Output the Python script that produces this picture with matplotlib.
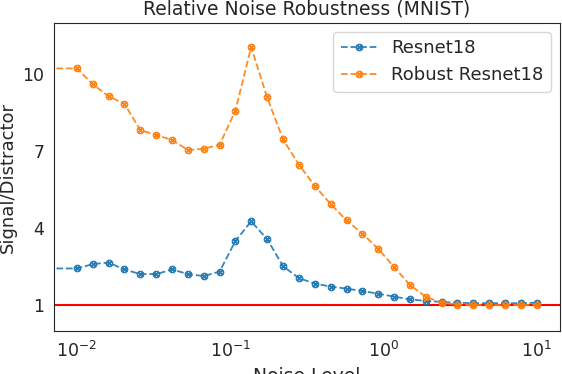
import matplotlib
matplotlib.use("Agg")
import matplotlib.pyplot as plt
import seaborn as sns

sns.set_style("white")
plt.rcParams['font.family'] = ['DejaVu Sans']

# noise levels (first point is noise = 0, falls off the log axis)
noise = [0.0, 0.01, 0.0127, 0.0161, 0.0204, 0.0259, 0.0329, 0.0418, 0.053, 0.0672,
         0.0853, 0.108, 0.137, 0.174, 0.221, 0.281, 0.356, 0.452, 0.574,
         0.728, 0.924, 1.17, 1.49, 1.89, 2.4, 3.04, 3.86, 4.89, 6.21, 7.88, 10.0]

resnet = [2.41, 2.41, 2.58, 2.64, 2.37, 2.19, 2.19, 2.37, 2.19, 2.11, 2.29,
          3.48, 4.25, 3.56, 2.50, 2.03, 1.82, 1.70, 1.62, 1.53, 1.42,
          1.31, 1.20, 1.14, 1.10, 1.07, 1.05, 1.05, 1.05, 1.05, 1.07]

robust = [10.23, 10.23, 9.61, 9.14, 8.85, 7.82, 7.63, 7.43, 7.04, 7.09, 7.25,
          8.57, 11.07, 9.10, 7.46, 6.46, 5.64, 4.93, 4.29, 3.77, 3.18,
          2.47, 1.76, 1.30, 1.07, 1.00, 0.98, 0.98, 0.98, 0.98, 0.99]

fig, ax = plt.subplots(figsize=(5.62, 3.74), dpi=100)
fig.subplots_adjust(left=0.096, right=0.996, top=0.938, bottom=0.114)

ax.axhline(1, color='red', linewidth=1.5)
ax.plot(noise, resnet, '--', color='#1f77b4', marker=r'$\otimes$',
        markersize=5, markeredgewidth=0.6, alpha=0.9, linewidth=1.3,
        label='Resnet18')
ax.plot(noise, robust, '--', color='#ff7f0e', marker=r'$\otimes$',
        markersize=5, markeredgewidth=0.6, alpha=0.9, linewidth=1.3,
        label='Robust Resnet18')

ax.set_xscale('log')
ax.set_ylim(-0.05, 12.0)
ax.set_yticks([1, 4, 7, 10])
ax.tick_params(labelsize=12.5, colors='.15')

ax.set_title('Relative Noise Robustness (MNIST)', fontsize=13.5, color='.15')
ax.set_xlabel('Noise Level', fontsize=13.5, color='.15')
ax.set_ylabel('Signal/Distractor', fontsize=13, color='.15')
ax.legend(loc='upper right', fontsize=13)

plt.savefig('out.png', dpi=100, facecolor='white')
plt.close()
